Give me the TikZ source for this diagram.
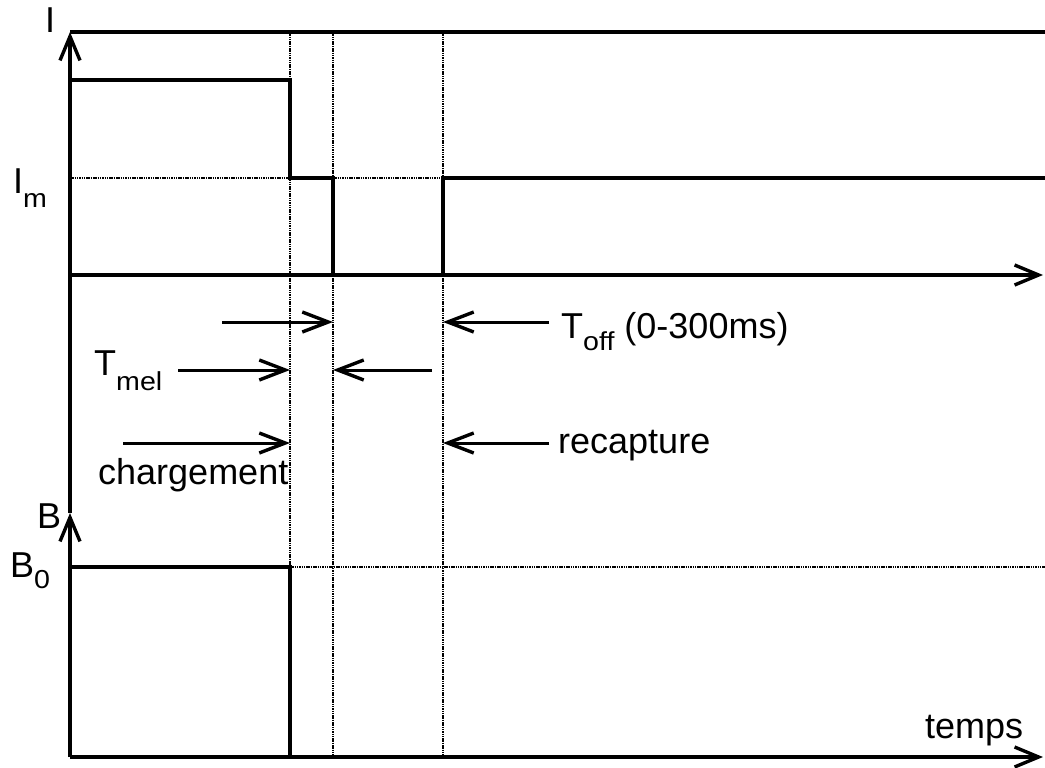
\documentclass[tikz,border=0pt]{standalone}
\usepackage{fontspec}
\setmainfont{Liberation Sans}
\usetikzlibrary{arrows.meta}
\newcommand{\lowsub}[2]{\raisebox{-#1pt}{\fontsize{26}{26}\selectfont\scalebox{1.1}[1]{#2}}}
\begin{document}
\begin{tikzpicture}[x=1pt,y=-1pt,
  sig/.style={line width=3.6pt},
  guide/.style={line width=1.7pt, dash pattern=on 1.5pt off 0.8pt},
  axis/.style={line width=3.4pt, -{Straight Barb[length=24pt,width=20pt,line width=3.4pt]}},
  ann/.style={line width=3pt, -{Straight Barb[length=26pt,width=20pt,line width=3.4pt]}},
  lbl/.style={font=\fontsize{36}{40}\selectfont, inner sep=0pt, anchor=base west}]
\useasboundingbox (0,0) rectangle (1045,768);
% key coordinates
\coordinate (Itop) at (70,32);
\coordinate (Iorg) at (70,275);
\coordinate (Iend) at (1043,275);
\coordinate (Btop) at (70,513);
\coordinate (Borg) at (70,757);
\coordinate (Bend) at (1043,757);
\coordinate (TopR) at (1045,32);
% guide lines (dotted)
\foreach \x/\n in {290/a,333/b,443/c}{
  \coordinate (g\n1) at (\x,32);
  \coordinate (g\n2) at (\x,757);
  \draw[guide] (g\n1) -- (g\n2);
}
\coordinate (ImL) at (70,178);
\coordinate (ImA) at (290,178);
\coordinate (ImB) at (333,178);
\coordinate (ImC) at (443,178);
\coordinate (B0A) at (290,567);
\coordinate (B0R) at (1045,567);
\draw[guide] (ImL) -- (ImA);
\draw[guide] (ImB) -- (ImC);
\draw[guide] (B0A) -- (B0R);
% axes
\draw[axis] (Borg) -- (Btop);
\draw[axis] (Btop) -- (Itop);
\draw[sig] (Itop) -- (TopR);
\draw[axis] (Iorg) -- (Iend);
\draw[axis] (Borg) -- (Bend);
% current signal
\draw[sig] (70,80) -- (290,80) -- (ImA) -- (ImB) -- (333,275);
\draw[sig] (443,275) -- (ImC) -- (1045,178);
% field signal
\draw[sig] (70,567) -- (B0A) -- (290,757);
% annotation arrows
\coordinate (a1s) at (222,322); \coordinate (a1e) at (333,322);
\coordinate (a2s) at (178,370); \coordinate (a2e) at (290,370);
\coordinate (a3s) at (432,370); \coordinate (a3e) at (333,370);
\coordinate (a4s) at (123,443); \coordinate (a4e) at (290,443);
\coordinate (a5s) at (549,322); \coordinate (a5e) at (443,322);
\coordinate (a6s) at (549,443); \coordinate (a6e) at (443,443);
\draw[ann] (a1s) -- (a1e);
\draw[ann] (a2s) -- (a2e);
\draw[ann] (a3s) -- (a3e);
\draw[ann] (a4s) -- (a4e);
\draw[ann] (a5s) -- (a5e);
\draw[ann] (a6s) -- (a6e);
% labels
\node[lbl] (lI) at (45,33) {I};
\node[lbl] (lIm) at (13,193) {I\lowsub{14}{m}};
\node[lbl] (lTmel) at (94,375) {T\lowsub{15}{mel}};
\node[lbl] (lch) at (98,484) {chargement};
\node[lbl] (lToff) at (561,338) {T\lowsub{12}{off} (0-300ms)};
\node[lbl] (lrec) at (558,453) {recapture};
\node[lbl] (lB) at (37,528) {B};
\node[lbl] (lB0) at (10,577) {B\lowsub{11}{0}};
\node[lbl] (ltemps) at (925,738) {temps};
\end{tikzpicture}
\end{document}
